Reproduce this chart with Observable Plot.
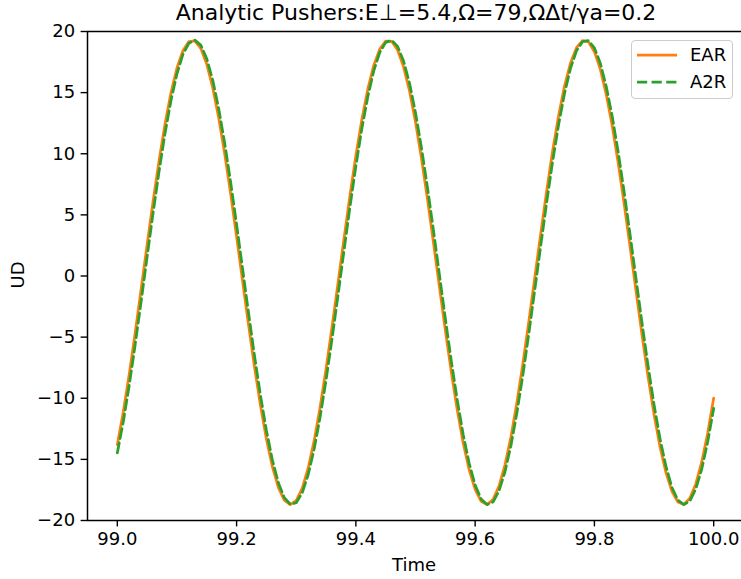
<!DOCTYPE html>
<html><head><meta charset="utf-8">
<script src="https://cdn.jsdelivr.net/npm/d3@7"></script>
<script src="https://cdn.jsdelivr.net/npm/@observablehq/plot@0.6"></script>
<style>
body{margin:0;background:#fff;font-family:"DejaVu Sans",sans-serif;}
#wrap{position:relative;width:741px;height:579px;overflow:hidden;background:#fff}
.t{position:absolute;white-space:nowrap;color:#000;line-height:1;transform:translate(-50%,-50%)}
#legend{position:absolute;left:631px;top:40px;width:102px;height:59px;border:1.5px solid #cccccc;border-radius:4px;background:rgba(255,255,255,0.8);box-sizing:border-box}
#legend .lab{position:absolute;left:58px;font-size:18px;line-height:1;transform:translateY(-50%)}
</style></head><body><div id="wrap"></div>
<script>
const time = [99.00,99.01,99.02,99.03,99.04,99.05,99.06,99.07,99.08,99.09,
99.10,99.11,99.12,99.13,99.14,99.15,99.16,99.17,99.18,99.19,
99.20,99.21,99.22,99.23,99.24,99.25,99.26,99.27,99.28,99.29,
99.30,99.31,99.32,99.33,99.34,99.35,99.36,99.37,99.38,99.39,
99.40,99.41,99.42,99.43,99.44,99.45,99.46,99.47,99.48,99.49,
99.50,99.51,99.52,99.53,99.54,99.55,99.56,99.57,99.58,99.59,
99.60,99.61,99.62,99.63,99.64,99.65,99.66,99.67,99.68,99.69,
99.70,99.71,99.72,99.73,99.74,99.75,99.76,99.77,99.78,99.79,
99.80,99.81,99.82,99.83,99.84,99.85,99.86,99.87,99.88,99.89,
99.90,99.91,99.92,99.93,99.94,99.95,99.96,99.97,99.98,99.99,
100.00];
const ear = [-13.80,-11.12,-8.03,-4.63,-1.06,2.57,6.11,9.44,12.44,14.99,
17.01,18.43,19.18,19.24,18.62,17.32,15.41,12.94,10.02,6.75,
3.23,-0.39,-3.98,-7.42,-10.58,-13.34,-15.60,-17.29,-18.33,-18.70,
-18.37,-17.37,-15.72,-13.49,-10.75,-7.61,-4.19,-0.60,3.02,6.55,
9.84,12.79,15.28,17.23,18.56,19.22,19.20,18.49,17.11,15.13,
12.60,9.63,6.31,2.78,-0.85,-4.43,-7.84,-10.95,-13.66,-15.85,
-17.46,-18.42,-18.70,-18.28,-17.19,-15.47,-13.17,-10.37,-7.19,-3.74,
-0.14,3.47,6.98,10.24,13.13,15.56,17.43,18.68,19.26,19.15,
18.35,16.90,14.83,12.24,9.22,5.87,2.32,-1.30,-4.87,-8.25,
-11.32,-13.96,-16.09,-17.62,-18.49,-18.68,-18.18,-17.01,-15.21,-12.84,
-9.99];
const a2r = [-14.47,-11.92,-8.93,-5.60,-2.06,1.58,5.16,8.56,11.67,14.36,
16.53,18.13,19.04,19.29,18.89,17.76,16.02,13.69,10.88,7.69,
4.22,0.61,-3.01,-6.51,-9.76,-12.64,-15.05,-16.91,-18.13,-18.67,
-18.55,-17.74,-16.26,-14.18,-11.56,-8.52,-5.16,-1.60,2.03,5.61,
8.98,12.04,14.66,16.78,18.28,19.11,19.28,18.78,17.58,15.76,
13.36,10.50,7.26,3.77,0.15,-3.46,-6.94,-10.14,-12.98,-15.32,
-17.10,-18.25,-18.69,-18.49,-17.58,-16.03,-13.88,-11.20,-8.11,-4.72,
-1.14,2.48,6.04,9.39,12.39,14.96,17.00,18.43,19.17,19.25,
18.66,17.39,15.47,13.02,10.10,6.83,3.31,-0.30,-3.91,-7.36,
-10.53,-13.30,-15.58,-17.29,-18.34,-18.70,-18.41,-17.42,-15.79,-13.56,
-10.83];
const xTicks = [99.0,99.2,99.4,99.6,99.8,100.0];
const yTicks = [-20,-15,-10,-5,0,5,10,15,20];
const seriesNames = ["EAR","A2R"];
const seriesColors = ["#ff7f0e","#2ca02c"];
const titleText = "Analytic Pushers:E\u22a5=5.4,\u03a9=79,\u03a9\u0394t/\u03b3a=0.2";

const rows = time.map((t,i)=>({t, ear:ear[i], a2r:a2r[i]}));
const fmtY = d3.format("d");
const chart = Plot.plot({
  width:741, height:579,
  marginLeft:87, marginRight:-2, marginTop:31, marginBottom:59,
  style:{fontFamily:"DejaVu Sans, sans-serif", fontSize:"18px", background:"white", color:"black"},
  x:{domain:[98.95,100.05]},
  y:{domain:[-20,20]},
  marks:[
    Plot.axisX({ticks:xTicks, tickFormat:d3.format(".1f"), tickSize:6.4, tickPadding:5, strokeWidth:1.4, label:null, fontSize:18}),
    Plot.axisY({ticks:yTicks, tickFormat:d=>fmtY(d), tickSize:6.4, tickPadding:6, strokeWidth:1.4, label:null, fontSize:18}),
    Plot.line(rows,{x:"t",y:"ear",stroke:seriesColors[0],strokeWidth:2.75}),
    Plot.line(rows,{x:"t",y:"a2r",stroke:seriesColors[1],strokeWidth:2.75,strokeDasharray:"10.2,4.4"}),
    Plot.frame({stroke:"black", strokeWidth:1.5})
  ]
});
const wrap = document.getElementById("wrap");
wrap.appendChild(chart);

function addText(txt, x, y, size, rot){
  const d = document.createElement("div");
  d.className = "t";
  d.textContent = txt;
  d.style.left = x+"px"; d.style.top = y+"px"; d.style.fontSize = size+"px";
  if (rot) d.style.transform = "translate(-50%,-50%) rotate(-90deg)";
  wrap.appendChild(d);
}
addText(titleText, 416, 13, 22);
addText("Time", 414, 565, 18);
addText("UD", 18, 275, 18, true);

const lg = document.createElement("div");
lg.id = "legend";
let inner = '<svg width="100" height="56" style="position:absolute;left:0;top:0">';
inner += `<line x1="5" x2="45" y1="14" y2="14" stroke="${seriesColors[0]}" stroke-width="2.75"/>`;
inner += `<line x1="5" x2="45" y1="41" y2="41" stroke="${seriesColors[1]}" stroke-width="2.75" stroke-dasharray="10.2,4.4"/>`;
inner += '</svg>';
inner += `<div class="lab" style="top:14px">${seriesNames[0]}</div>`;
inner += `<div class="lab" style="top:41px">${seriesNames[1]}</div>`;
lg.innerHTML = inner;
wrap.appendChild(lg);
</script></body></html>
